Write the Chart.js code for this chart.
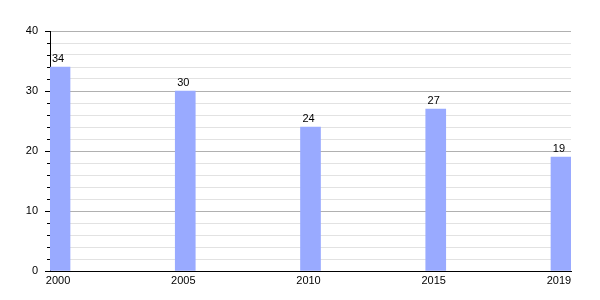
<!DOCTYPE html>
<html>
<head>
<meta charset="utf-8">
<script src="https://cdn.jsdelivr.net/npm/chart.js@4"></script>
<style>
html,body{margin:0;padding:0;background:#fff;}
#wrap{width:600px;height:300px;}
</style>
</head>
<body>
<div id="wrap"><canvas id="c" width="600" height="300"></canvas></div>
<script>
const categories = ['2000', '2005', '2010', '2015', '2019'];
const values = [34, 30, 24, 27, 19];
const yTicks = [0, 10, 20, 30, 40];

const FONT = 'Liberation Sans, Arial, sans-serif';

const minorTicks = {
  id: 'minorTicks',
  afterDatasetsDraw(chart) {
    const ctx = chart.ctx, y = chart.scales.y;
    ctx.save();
    ctx.strokeStyle = '#000';
    ctx.lineWidth = 1;
    for (let v = 0; v <= 40; v += 2) {
      if (v % 10 === 0) continue;
      const py = Math.round(y.getPixelForValue(v)) + 0.5;
      ctx.beginPath();
      ctx.moveTo(y.right - 3, py);
      ctx.lineTo(y.right, py);
      ctx.stroke();
    }
    ctx.restore();
  }
};

const valueLabels = {
  id: 'valueLabels',
  afterDatasetsDraw(chart) {
    const ctx = chart.ctx;
    const meta = chart.getDatasetMeta(0);
    ctx.save();
    ctx.font = '11px ' + FONT;
    ctx.fillStyle = '#000';
    ctx.textAlign = 'center';
    ctx.textBaseline = 'bottom';
    meta.data.forEach((bar, i) => {
      ctx.fillText(String(values[i]), bar.x - 2, bar.y - 3);
    });
    ctx.restore();
  }
};

new Chart(document.getElementById('c'), {
  type: 'bar',
  data: {
    datasets: [{
      data: values.map((v, i) => ({x: i, y: v})),
      backgroundColor: '#99aaff',
      borderWidth: 0,
      barThickness: 20
    }]
  },
  options: {
    responsive: false,
    animation: false,
    layout: {padding: {left: 0, right: 29, top: 31, bottom: 0}},
    plugins: {legend: {display: false}, tooltip: {enabled: false}},
    scales: {
      x: {
        type: 'linear',
        min: -0.08,
        max: 4.08,
        offset: false,
        afterBuildTicks: axis => { axis.ticks = categories.map((_, i) => ({value: i})); },
        afterFit: axis => { axis.height = 29; },
        grid: {display: false, drawTicks: false},
        border: {display: true, color: '#000', width: 1},
        ticks: {
          callback: v => categories[v],
          color: '#000',
          font: {size: 11, family: FONT},
          padding: 3,
          labelOffset: -2,
          maxRotation: 0,
          autoSkip: false
        }
      },
      y: {
        min: 0,
        max: 40,
        afterBuildTicks: axis => {
          const t = [];
          for (let v = 0; v <= 40; v += 2) t.push({value: v});
          axis.ticks = t;
        },
        afterFit: axis => { axis.width = 50; },
        border: {display: true, color: '#000', width: 1},
        grid: {
          color: c => (c.tick && c.tick.value % 10 === 0) ? '#b0b0b0' : '#e2e2e2',
          tickColor: c => (c.tick && c.tick.value % 10 === 0) ? '#000' : 'rgba(0,0,0,0)',
          tickLength: 5,
          drawTicks: true
        },
        ticks: {
          callback: v => yTicks.includes(v) ? String(v) : '',
          color: '#000',
          font: {size: 11, family: FONT},
          padding: 7,
          autoSkip: false
        }
      }
    }
  },
  plugins: [minorTicks, valueLabels]
});
</script>
</body>
</html>
